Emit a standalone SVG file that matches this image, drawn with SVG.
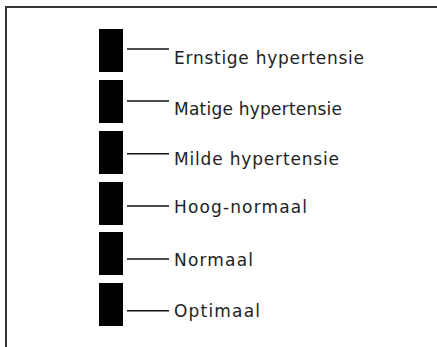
<svg xmlns="http://www.w3.org/2000/svg" width="437" height="347" viewBox="0 0 437 347">
<style>
.frame{fill:none;stroke:#333;stroke-width:2}
.bar{fill:#000}
.lead{stroke:#111;stroke-width:1.5}
.lbl{font-family:"DejaVu Sans","Open Sans",sans-serif;font-size:17px;fill:#222}
</style>
<rect width="437" height="347" fill="#fff"/>
<path class="frame" d="M6,350 V7 H440"/>
<g id="n1"><rect class="bar" x="99" y="29" width="24" height="43"/><text class="lbl" x="174" y="63.5" textLength="190" lengthAdjust="spacing">Ernstige hypertensie</text></g>
<g id="n2"><rect class="bar" x="99" y="80" width="24" height="43"/><text class="lbl" x="174" y="115" textLength="168" lengthAdjust="spacing">Matige hypertensie</text></g>
<g id="n3"><rect class="bar" x="99" y="131" width="24" height="43"/><text class="lbl" x="174" y="165" textLength="165" lengthAdjust="spacing">Milde hypertensie</text></g>
<g id="n4"><rect class="bar" x="99" y="182" width="24" height="43"/><text class="lbl" x="174" y="212.5" textLength="133" lengthAdjust="spacing">Hoog-normaal</text></g>
<g id="n5"><rect class="bar" x="99" y="232" width="24" height="43"/><text class="lbl" x="174" y="265.5" textLength="79" lengthAdjust="spacing">Normaal</text></g>
<g id="n6"><rect class="bar" x="99" y="283" width="24" height="43"/><text class="lbl" x="174" y="316.5" textLength="86" lengthAdjust="spacing">Optimaal</text></g>
<g id="connectors">
<line class="lead" x1="127" y1="49" x2="169" y2="49"/>
<line class="lead" x1="127" y1="101" x2="169" y2="101"/>
<line class="lead" x1="127" y1="153.7" x2="169" y2="153.7"/>
<line class="lead" x1="127" y1="206" x2="169" y2="206"/>
<line class="lead" x1="127" y1="259" x2="169" y2="259"/>
<line class="lead" x1="127" y1="310.7" x2="169" y2="310.7"/>
</g>
</svg>
